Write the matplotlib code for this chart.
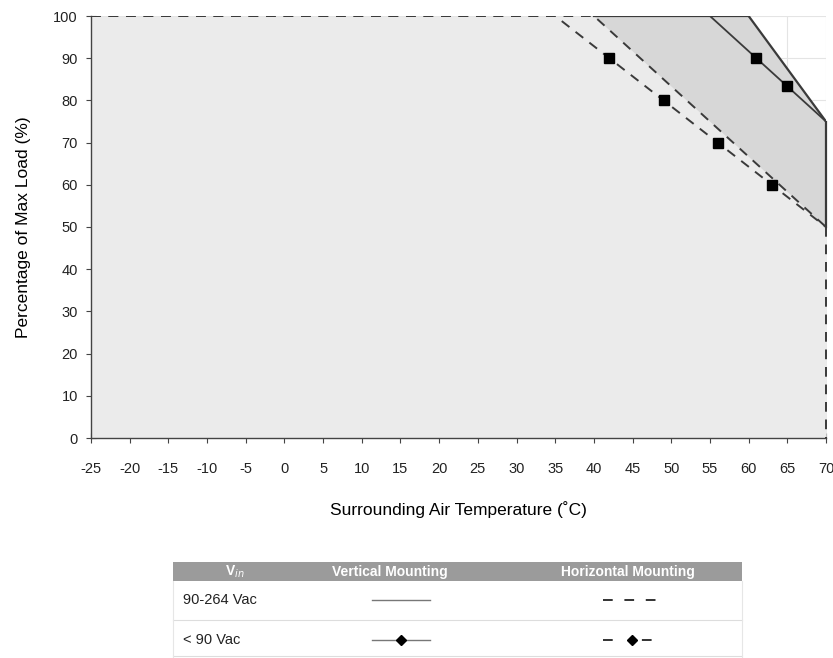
import matplotlib.pyplot as plt
from matplotlib.patches import Rectangle

plt.rcParams['font.family'] = ['Liberation Sans', 'DejaVu Sans']
plt.rcParams['axes.unicode_minus'] = False

# derating curves (temperature in C, load in %)
vert_hi_t = [-25, 60, 70]
vert_hi_p = [100, 100, 75]
vert_lo_t = [55, 70]
vert_lo_p = [100, 75]
vert_lo_mk_t = [61, 65]
vert_lo_mk_p = [90, 83.3]

horz_hi_t = [-25, 40, 70]
horz_hi_p = [100, 100, 50]
horz_lo_t = [-25, 35, 70]
horz_lo_p = [100, 100, 50]
horz_lo_mk_t = [42, 49, 56, 63]
horz_lo_mk_p = [90, 80, 70, 60]

xticks = list(range(-25, 75, 5))
yticks = list(range(0, 110, 10))

header = ["V$_{in}$", "Vertical Mounting", "Horizontal Mounting"]
rows = ["90-264 Vac", "< 90 Vac"]


def main():
    fig = plt.figure(figsize=(8.33, 6.58), dpi=100)
    W, H = 833, 658
    ax = fig.add_axes([91 / W, 1 - 438 / H, (826 - 91) / W, (438 - 16) / H])

    ax.set_xlim(-25, 70)
    ax.set_ylim(0, 100)
    ax.set_axisbelow(True)
    ax.grid(True, color="#e4e4e4", lw=0.8, zorder=0)

    # shaded areas
    ax.fill_between(vert_hi_t, vert_hi_p, 0, color="#d7d7d7", lw=0, zorder=1)
    ax.fill_between(horz_hi_t, horz_hi_p, 0, color="#ebebeb", lw=0, zorder=1)

    dash = (0, (5, 4))
    ax.plot(vert_hi_t[1:], vert_hi_p[1:], color="#3a3a3a", lw=1.6, zorder=3)
    ax.plot([40, 60], [100, 100], color="#3a3a3a", lw=1.6, zorder=3)
    ax.plot(vert_lo_t, vert_lo_p, color="#3a3a3a", lw=1.3, zorder=3)
    ax.plot(vert_lo_mk_t, vert_lo_mk_p, ls="none", marker="s", ms=6.5, color="black", zorder=4)

    ax.plot(horz_hi_t, horz_hi_p, color="#3a3a3a", lw=1.4, ls=dash, zorder=3)
    ax.plot(horz_lo_t, horz_lo_p, color="#3a3a3a", lw=1.4, ls=dash, zorder=3)
    ax.plot(horz_lo_mk_t, horz_lo_mk_p, ls="none", marker="s", ms=6.5, color="black", zorder=4)

    ax.plot([70, 70], [75, 50], color="#3a3a3a", lw=1.6, zorder=3, clip_on=False)
    ax.plot([70, 70], [50, 0], color="#3a3a3a", lw=1.4, ls=dash, zorder=3, clip_on=False)

    for s in ["top", "right"]:
        ax.spines[s].set_visible(False)
    for s in ["left", "bottom"]:
        ax.spines[s].set_color("#444444")
        ax.spines[s].set_linewidth(1.0)

    ax.set_xticks(xticks)
    ax.set_yticks(yticks)
    ax.tick_params(direction="inout", length=7, width=0.8, color="#444444",
                   labelsize=10.5, labelcolor="#222222")
    ax.tick_params(axis="x", pad=14)
    ax.tick_params(axis="y", pad=6)
    ax.set_xlabel("Surrounding Air Temperature (˚C)", fontsize=12.5, labelpad=18)
    ax.set_ylabel("Percentage of Max Load (%)", fontsize=12.5, labelpad=16)

    # legend table under the chart
    tb = fig.add_axes([0, 0, 1, 1], zorder=-1)
    tb.set_xlim(0, W)
    tb.set_ylim(H, 0)
    tb.axis("off")
    tb.add_patch(Rectangle((173, 562), 742 - 173, 19, color="#9b9b9b", lw=0))
    for x, txt in zip([235, 390, 628], header):
        tb.text(x, 572, txt, color="white", fontsize=10, fontweight="bold",
                ha="center", va="center")
    for y in [620, 656]:
        tb.plot([173, 742], [y, y], color="#dddddd", lw=0.8)
    tb.plot([173, 173], [581, 658], color="#e6e6e6", lw=0.8)
    tb.plot([742, 742], [581, 658], color="#e6e6e6", lw=0.8)
    for y, txt in zip([600, 640], rows):
        tb.text(183, y, txt, fontsize=10.5, color="#222222", va="center")

    tb.plot([372, 430], [600, 600], color="#777777", lw=1.0)
    tb.plot([372, 430], [640, 640], color="#777777", lw=1.0)
    tb.plot([401], [640], marker="D", ms=5, color="black")
    tb.plot([603, 662], [600, 600], color="#333333", lw=1.4, ls=(0, (5, 6)))
    tb.plot([603, 662], [640, 640], color="#333333", lw=1.4, ls=(0, (5, 15)))
    tb.plot([632], [640], marker="D", ms=5, color="black")

    fig.savefig("out.png", dpi=100)


if __name__ == "__main__":
    main()
